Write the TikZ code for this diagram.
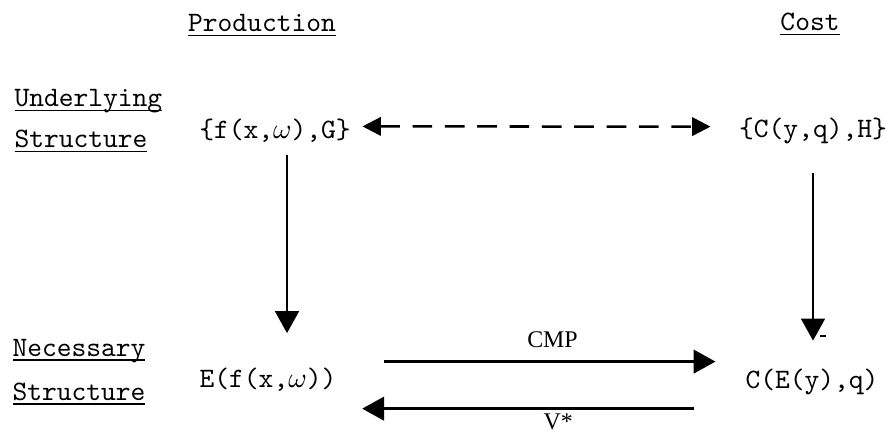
\documentclass[tikz,border=0pt]{standalone}
\usepackage{fontspec}
\usepackage{tikz}
\usetikzlibrary{arrows.meta, positioning, calc}
\newfontfamily\capfont{Liberation Serif}

\newcommand{\ulabel}[1]{\underline{\smash{#1}}}

\begin{document}
\begin{tikzpicture}[
    x=0.0125cm, y=-0.0125cm,
    heading/.style={font=\ttfamily, inner sep=0pt, anchor=base},
    side/.style={font=\ttfamily, inner sep=0pt, anchor=base west},
    term/.style={font=\ttfamily, inner sep=4pt, anchor=base},
    tag/.style={font=\capfont\fontsize{8.5}{9}\selectfont, inner sep=1.5pt},
    edge/.style={-{Triangle[length=7.8pt, width=8.4pt]}, line width=0.9pt},
    dashedge/.style={{Triangle[length=6.5pt, width=6.5pt]}-{Triangle[length=6.5pt, width=6.5pt]},
                     line width=0.9pt, dash pattern=on 7pt off 4.5pt},
  ]
    \useasboundingbox (0,0) rectangle (887,433);

    \node[heading] (prod) at (262, 32) {\ulabel{Production}};
    \node[heading] (cost) at (810, 31) {\ulabel{Cost}};

    \node[side] (under) at (14, 107) {\ulabel{Underlying}};
    \node[side] (struA) at (14, 148) {\ulabel{Structure}};
    \node[side] (need)  at (12, 356) {\ulabel{Necessary}};
    \node[side] (struB) at (12, 400) {\ulabel{Structure}};

    \node[term] (fset) at (275, 139) {\{f(x,$\omega$),G\}};
    \node[term] (cset) at (813, 138) {\{C(y,q),H\}};
    \node[term] (ef)   at (268, 387) {E(f(x,$\omega$))};
    \node[term] (ce)   at (812, 388) {C(E(y),q)};

    \draw[dashedge, shorten >=6pt] ([yshift=0.06cm]fset.east) -- ([yshift=0.06cm]cset.west);

    \draw[edge, shorten >=8pt] ([xshift=0.15cm]fset.south) -- ([xshift=0.15cm]fset.south |- ef.north);
    \draw[edge, shorten <=6pt, shorten >=5.7pt] (cset.south) -- (cset.south |- ce.north);
    \draw[line width=0.9pt] (820,336) -- (826,336);

    \draw[edge, shorten <=12.8pt, shorten >=6.5pt] ([yshift=0.22cm]ef.east) -- node[tag, above=3pt, pos=0.53] (cmp) {CMP} ([yshift=0.22cm]ef.east -| ce.west);
    \draw[edge, shorten <=14pt, shorten >=5pt] ([yshift=-0.34cm]ce.west) -- node[tag, below=0pt, pos=0.455] (vstar) {V*} ([yshift=-0.34cm]ce.west -| ef.east);
  \end{tikzpicture}
\end{document}
